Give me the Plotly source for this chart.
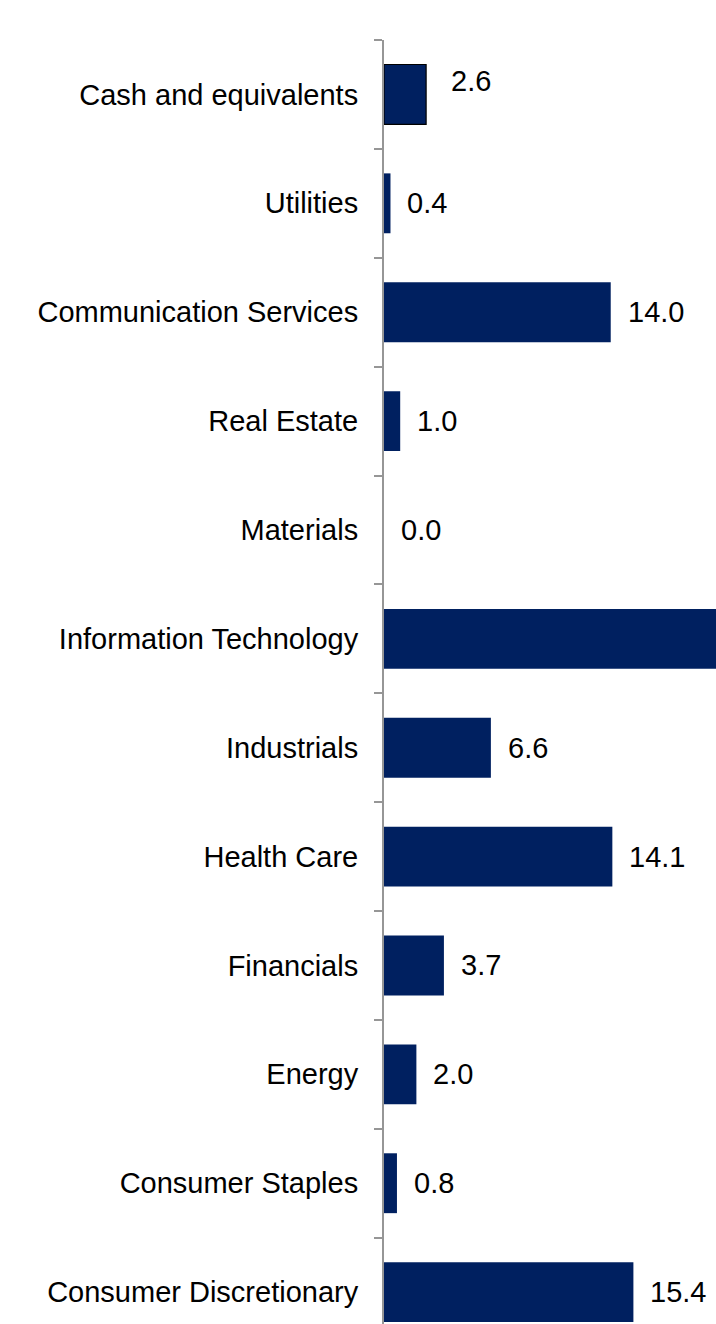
import plotly.graph_objects as go

# Sector weights (%), listed bottom to top
sectors = [
    "Consumer Discretionary",
    "Consumer Staples",
    "Energy",
    "Financials",
    "Health Care",
    "Industrials",
    "Information Technology",
    "Materials",
    "Real Estate",
    "Communication Services",
    "Utilities",
    "Cash and equivalents",
]
weights = [15.4, 0.8, 2.0, 3.7, 14.1, 6.6, 39.4, 0.0, 1.0, 14.0, 0.4, 2.6]

BAR_COLOR = "#002060"
AXIS_COLOR = "#969696"
FONT = "Liberation Sans, Arial, sans-serif"
FONT_SIZE = 29

# Only the cash bar carries an outline
outline = [1.2 if s == "Cash and equivalents" else 0 for s in sectors]

fig = go.Figure(
    go.Bar(
        x=weights,
        y=sectors,
        orientation="h",
        width=0.55,
        marker=dict(color=BAR_COLOR, line=dict(color="black", width=outline)),
        hoverinfo="skip",
    )
)

# Value labels to the right of each bar
annotations = []
for s, v in zip(sectors, weights):
    dx, dy = 15, 0
    if s == "Cash and equivalents":
        dx, dy = 23, 13
    annotations.append(
        dict(
            x=v,
            y=s,
            xref="x",
            yref="y",
            text=f"{v:.1f}",
            showarrow=False,
            xanchor="left",
            yanchor="middle",
            xshift=dx,
            yshift=dy,
            font=dict(family=FONT, size=FONT_SIZE, color="black"),
        )
    )

fig.update_layout(
    width=716,
    height=1324,
    margin=dict(l=384, r=0, t=40, b=0, pad=0),
    paper_bgcolor="white",
    plot_bgcolor="white",
    showlegend=False,
    annotations=annotations,
    font=dict(family=FONT, size=FONT_SIZE, color="black"),
)

fig.update_xaxes(
    range=[0, 20.5],
    visible=False,
    showgrid=False,
    zeroline=False,
)

fig.update_yaxes(
    type="category",
    categoryorder="array",
    categoryarray=sectors,
    range=[-0.293, 11.5],
    showline=True,
    linecolor=AXIS_COLOR,
    linewidth=2,
    ticks="outside",
    tickson="boundaries",
    ticklen=8,
    tickwidth=2,
    tickcolor=AXIS_COLOR,
    ticklabelstandoff=18,
    showgrid=False,
    zeroline=False,
    tickfont=dict(family=FONT, size=FONT_SIZE, color="black"),
)

fig.write_html("out.html")
